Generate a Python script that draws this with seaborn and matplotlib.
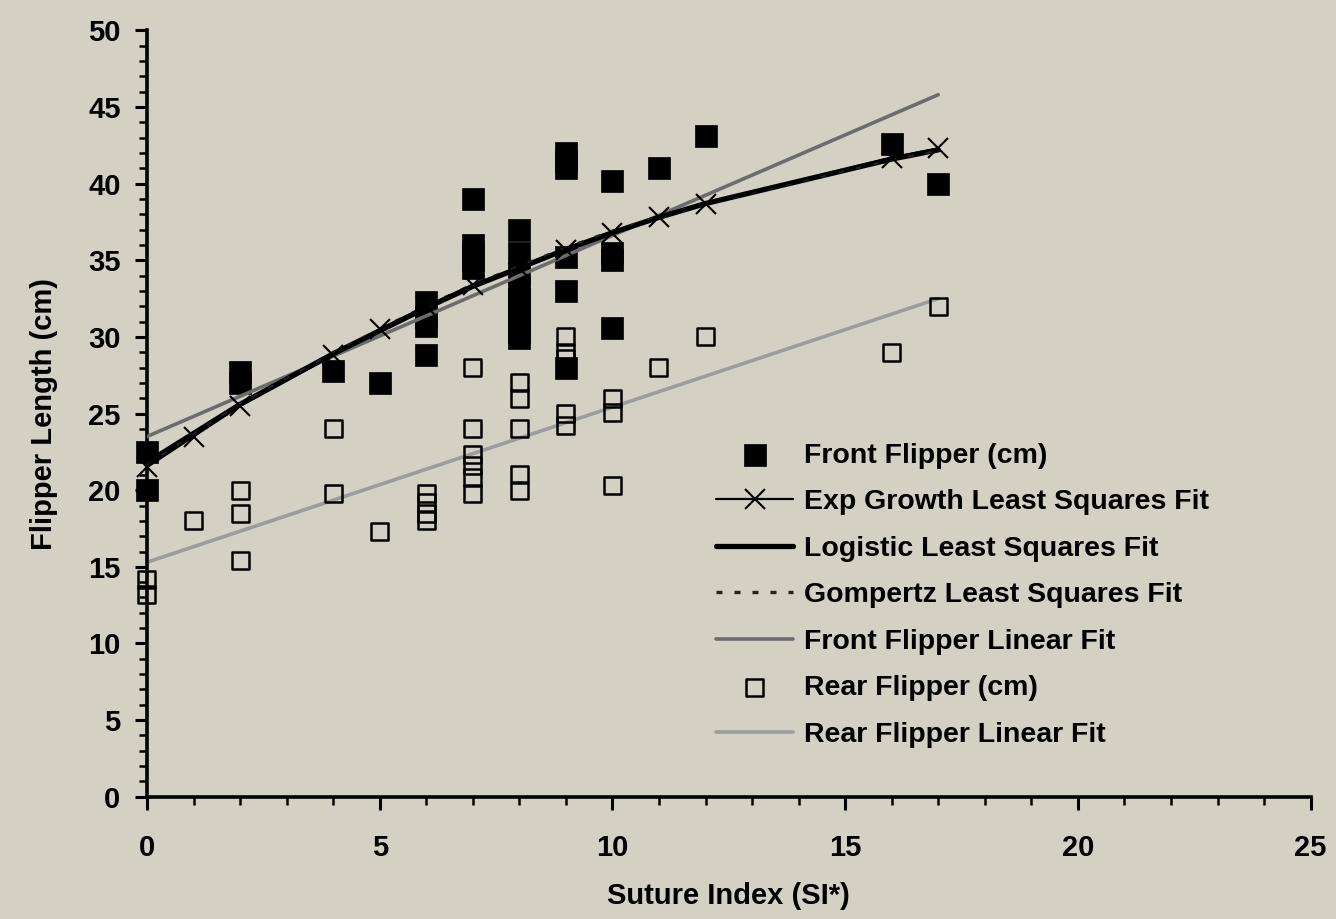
"""
Flipper length vs suture index, with growth-curve and linear fits.
Recreated from a scanned figure; values read off the picture.
"""

import matplotlib
matplotlib.use("Agg")
import matplotlib.pyplot as plt
from matplotlib.ticker import MultipleLocator
import seaborn as sns
import pandas as pd

# front flipper observations (filled squares)
front_x = [0, 0, 2, 2, 4, 5, 6, 6, 6, 6,
           7, 7, 7, 7, 7, 8, 8, 8, 8, 8, 8, 8, 8, 8, 8,
           9, 9, 9, 9, 9, 9, 10, 10, 10, 10, 11, 12, 16, 17]
front_y = [22.5, 20.0, 27.7, 27.0, 27.8, 27.0, 32.3, 31.3, 30.7, 28.8,
           39.0, 36.0, 35.5, 35.0, 34.5, 37.0, 35.5, 34.2, 33.2, 32.5, 32.0, 31.3, 30.8, 30.3, 29.9,
           42.0, 41.5, 41.0, 35.2, 33.0, 28.0, 40.2, 35.5, 35.0, 30.6, 41.0, 43.1, 42.6, 40.0]

# rear flipper observations (open squares)
rear_x = [0, 0, 1, 2, 2, 2, 4, 4, 5, 6, 6, 6, 6,
          7, 7, 7, 7, 7, 7, 8, 8, 8, 8, 8,
          9, 9, 9, 9, 9, 10, 10, 10, 11, 12, 16, 17]
rear_y = [14.2, 13.2, 18.0, 20.0, 18.5, 15.4, 24.0, 19.8, 17.3, 19.8, 19.2, 18.5, 18.0,
          28.0, 24.0, 22.3, 21.6, 20.8, 19.8, 27.0, 26.0, 24.0, 21.0, 20.0,
          30.0, 29.0, 28.6, 25.0, 24.2, 26.0, 25.1, 20.3, 28.0, 30.0, 29.0, 32.0]

# fitted growth curves, evaluated at the observed suture indices
fit_x = [0, 1, 2, 4, 5, 6, 7, 8, 9, 10, 11, 12, 16, 17]
exp_y = [21.5, 23.5, 25.5, 28.8, 30.5, 32.0, 33.4, 34.5, 35.7, 36.8, 37.8, 38.7, 41.7, 42.3]
logistic_y = [21.8, 23.7, 25.6, 28.9, 30.4, 31.9, 33.3, 34.5, 35.7, 36.8, 37.8, 38.7, 41.6, 42.2]
gompertz_y = [21.6, 23.6, 25.6, 28.9, 30.5, 32.0, 33.4, 34.6, 35.8, 36.9, 37.8, 38.7, 41.6, 42.2]

# linear fits (end points)
lin_x = [0, 17]
front_lin_y = [23.5, 45.8]
rear_lin_y = [15.3, 32.5]

BG = "#d5d0c4"

sns.set_theme(style="ticks")
plt.rcParams["font.family"] = ["Liberation Sans", "DejaVu Sans"]
plt.rcParams["font.weight"] = "bold"
for key in ("text.color", "axes.labelcolor", "xtick.color", "ytick.color", "axes.edgecolor"):
    plt.rcParams[key] = "black"

fig = plt.figure(figsize=(13.36, 9.19), dpi=100, facecolor=BG)
ax = fig.add_axes([0.110, 0.133, 0.871, 0.834])
ax.set_facecolor(BG)

front_df = pd.DataFrame({"x": front_x, "y": front_y})
rear_df = pd.DataFrame({"x": rear_x, "y": rear_y})
fit_df = pd.DataFrame({"x": fit_x, "exp": exp_y, "log": logistic_y, "gom": gompertz_y})
lin_df = pd.DataFrame({"x": lin_x, "front": front_lin_y, "rear": rear_lin_y})

sns.lineplot(data=lin_df, x="x", y="rear", ax=ax, color="#9c9c9c", lw=2.6,
             label="Rear Flipper Linear Fit", zorder=2)
sns.scatterplot(data=rear_df, x="x", y="y", ax=ax, marker="s", s=150,
                facecolor="none", edgecolor="black", linewidth=1.8,
                label="Rear Flipper (cm)", clip_on=False, zorder=3)
sns.scatterplot(data=front_df, x="x", y="y", ax=ax, marker="s", s=260,
                color="black", edgecolor="black", linewidth=0.5,
                label="Front Flipper (cm)", clip_on=False, zorder=3)
sns.lineplot(data=lin_df, x="x", y="front", ax=ax, color="#6c6c6c", lw=2.6,
             label="Front Flipper Linear Fit", zorder=4)
sns.lineplot(data=fit_df, x="x", y="log", ax=ax, color="black", lw=3.8,
             label="Logistic Least Squares Fit", zorder=5)
sns.lineplot(data=fit_df, x="x", y="gom", ax=ax, color="#222222", lw=2.4,
             linestyle=(0, (1.8, 3.6)), label="Gompertz Least Squares Fit", zorder=6)
sns.lineplot(data=fit_df, x="x", y="exp", ax=ax, color="black", lw=1.6,
             marker="x", markersize=15, markeredgewidth=1.5,
             markeredgecolor="black", markerfacecolor="black",
             label="Exp Growth Least Squares Fit", clip_on=False, zorder=7)

ax.set_xlim(0, 25)
ax.set_ylim(0, 50)
ax.xaxis.set_major_locator(MultipleLocator(5))
ax.xaxis.set_minor_locator(MultipleLocator(1))
ax.yaxis.set_major_locator(MultipleLocator(5))
ax.yaxis.set_minor_locator(MultipleLocator(1))
ax.tick_params(which="major", direction="out", length=9, width=2.2, labelsize=21,
               colors="black")
ax.tick_params(axis="x", which="major", pad=18)
ax.tick_params(axis="y", which="major", pad=10)
ax.tick_params(which="minor", direction="out", length=6, width=1.8, colors="black")
for side in ("top", "right"):
    ax.spines[side].set_visible(False)
for side in ("left", "bottom"):
    ax.spines[side].set_linewidth(2.6)
    ax.spines[side].set_color("black")

ax.set_xlabel("Suture Index (SI*)", fontsize=21, fontweight="bold", labelpad=14)
ax.set_ylabel("Flipper Length (cm)", fontsize=21, fontweight="bold", labelpad=22)

handles, labels = ax.get_legend_handles_labels()
order = ["Front Flipper (cm)", "Exp Growth Least Squares Fit", "Logistic Least Squares Fit",
         "Gompertz Least Squares Fit", "Front Flipper Linear Fit", "Rear Flipper (cm)",
         "Rear Flipper Linear Fit"]
lookup = dict(zip(labels, handles))
leg = ax.legend([lookup[k] for k in order], order, loc="upper left",
                bbox_to_anchor=(0.536, 0.518), bbox_transform=fig.transFigure,
                frameon=False, fontsize=20.5, handlelength=2.7, handletextpad=0.4,
                labelspacing=0.72, borderpad=0, borderaxespad=0)
for t in leg.get_texts():
    t.set_fontweight("bold")
    t.set_color("black")

fig.savefig("out.png", dpi=100, facecolor=BG)
